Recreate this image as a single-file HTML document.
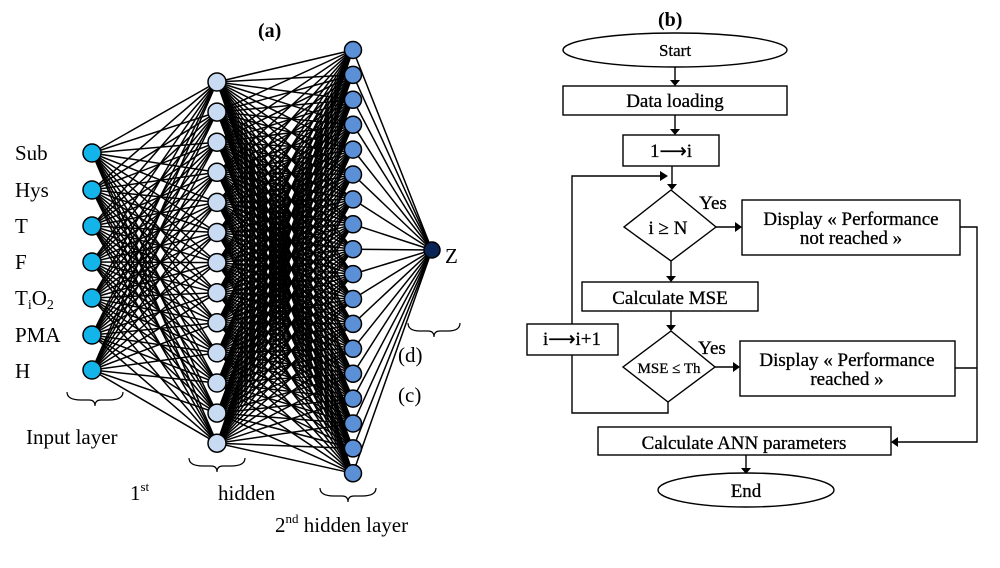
<!DOCTYPE html>
<html><head><meta charset="utf-8"><style>
html,body{margin:0;padding:0;background:#fff;width:1000px;height:568px;overflow:hidden}
svg{display:block}
text{font-family:"Liberation Serif",serif;fill:#000}
</style></head><body>
<svg id="s" width="1000" height="568" viewBox="0 0 1000 568" xmlns="http://www.w3.org/2000/svg">
<g id="edges" stroke="#000" stroke-width="1.5"></g>
<g id="nodes" stroke="#000" stroke-width="1.5"></g>
<text x="258" y="37" font-size="20" font-weight="bold">(a)</text>
<g font-size="21">
<text x="15" y="160">Sub</text>
<text x="15" y="197">Hys</text>
<text x="15" y="233">T</text>
<text x="15" y="269">F</text>
<text x="15" y="305">T<tspan font-size="14" dy="4">i</tspan><tspan dy="-4">O</tspan><tspan font-size="14" dy="4">2</tspan></text>
<text x="15" y="342">PMA</text>
<text x="15" y="378">H</text>
<text x="445" y="263">Z</text>
<text x="26" y="444">Input layer</text>
<text x="130" y="500">1<tspan font-size="13" dy="-9">st</tspan></text>
<text x="218" y="500">hidden</text>
<text x="275" y="532">2<tspan font-size="13" dy="-9">nd</tspan><tspan dy="9"> hidden layer</tspan></text>
<text x="398" y="362">(d)</text>
<text x="398" y="402">(c)</text>
</g>
<g fill="none" stroke="#000" stroke-width="1.2">
<path d="M67,392 q0,8 14,8 h8 q6,0 6,6 q0,-6 6,-6 h8 q14,0 14,-8"/>
<path d="M189,458 q0,8 14,8 h8 q6,0 6,6 q0,-6 6,-6 h8 q14,0 14,-8"/>
<path d="M320,488 q0,8 14,8 h8 q6,0 6,6 q0,-6 6,-6 h8 q14,0 14,-8"/>
<path d="M408,323 q0,8 12,8 h8 q6,0 6,6 q0,-6 6,-6 h8 q12,0 12,-8"/>
</g>
<!-- flowchart -->
<text x="658" y="26" font-size="20" font-weight="bold">(b)</text>
<g fill="none" stroke="#000" stroke-width="1.4">
<ellipse cx="675" cy="50" rx="112" ry="17"/>
<rect x="563" y="86" width="224" height="29"/>
<rect x="623" y="135" width="96" height="31"/>
<polygon points="671,190 716,227 671,261 624,227"/>
<rect x="742" y="200" width="218" height="55"/>
<rect x="582" y="282" width="176" height="29"/>
<polygon points="671,331 715,367 668,402 623,367"/>
<rect x="740" y="341" width="215" height="55"/>
<rect x="527" y="324" width="91" height="31"/>
<rect x="598" y="427" width="293" height="28"/>
<ellipse cx="746" cy="490" rx="88" ry="17"/>
<path d="M675,67 V80 M675,115 V129 M672,166 V184 M572,324 V176 H660 M668,402 V413 H572 V355 M671,261 V276 M671,311 V325 M716,227 H735 M715,367 H733 M960,227 H977 V442 H898 M955,368 H977 M746,455 V468"/>
</g>
<g fill="#000">
<polygon points="670,80 680,80 675,86"/>
<polygon points="670,129 680,129 675,135"/>
<polygon points="667,184 677,184 672,190"/>
<polygon points="660,171 660,181 668,176"/>
<polygon points="666,276 676,276 671,282"/>
<polygon points="666,325 676,325 671,331"/>
<polygon points="735,222 735,232 742,227"/>
<polygon points="733,362 733,372 740,367"/>
<polygon points="898,437 898,447 891,442"/>
<polygon points="741,468 751,468 746,474"/>
</g>
<g font-size="19" text-anchor="middle" stroke="#000" stroke-width="0.3">
<text x="675" y="56" font-size="17">Start</text>
<text x="675" y="107">Data loading</text>
<text x="671" y="157">1⟶i</text>
<text x="668" y="234">i ≥ N</text>
<text x="851" y="225">Display « Performance</text>
<text x="851" y="244">not reached »</text>
<text x="670" y="304">Calculate MSE</text>
<text x="669" y="373" font-size="15">MSE ≤ Th</text>
<text x="847" y="366">Display « Performance</text>
<text x="847" y="385">reached »</text>
<text x="572" y="345">i⟶i+1</text>
<text x="744" y="449">Calculate ANN parameters</text>
<text x="746" y="497">End</text>
<text x="713" y="209">Yes</text>
<text x="712" y="354">Yes</text>
</g>
</svg>
<script>
var NS="http://www.w3.org/2000/svg",E=document.getElementById('edges'),N=document.getElementById('nodes');
var L0=[153,190,226,262,298,335,370].map(y=>[92,y]);
var L1=[];for(var i=0;i<13;i++)L1.push([217,82+i*30.1]);
var L2=[];for(var i=0;i<18;i++)L2.push([353,50+i*24.9]);
var L3=[[432,250]];
function con(A,B){A.forEach(a=>B.forEach(b=>{var l=document.createElementNS(NS,'line');l.setAttribute('x1',a[0]);l.setAttribute('y1',a[1]);l.setAttribute('x2',b[0]);l.setAttribute('y2',b[1]);E.appendChild(l);}));}
con(L0,L1);con(L1,L2);con(L2,L3);
function dr(A,r,f){A.forEach(a=>{var c=document.createElementNS(NS,'circle');c.setAttribute('cx',a[0]);c.setAttribute('cy',a[1]);c.setAttribute('r',r);c.setAttribute('fill',f);N.appendChild(c);});}
dr(L0,9,'#12b4ea');dr(L1,9,'#c9dbf2');dr(L2,8.5,'#5b8fd6');dr(L3,8,'#0a2456');
</script>
</body></html>
